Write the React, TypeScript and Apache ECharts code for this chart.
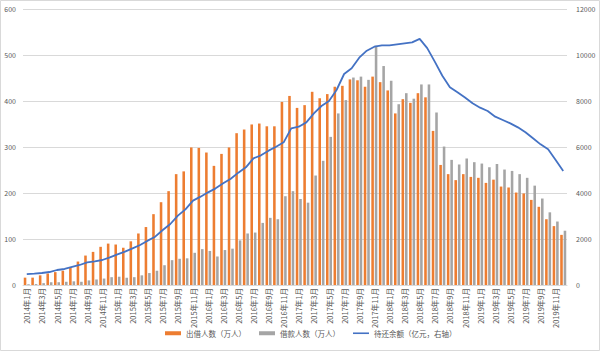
import React, { useEffect, useRef } from "react";
import * as echarts from "echarts";

const years = [2014, 2015, 2016, 2017, 2018, 2019];
const months = [1, 2, 3, 4, 5, 6, 7, 8, 9, 10, 11, 12];
const categories: string[] = [];
years.forEach((y) => months.forEach((m) => categories.push(`${y}年${m}月`)));

const lenders = [
  16, 16, 21, 25, 28, 31, 39, 51, 64, 72, 83, 90,
  88, 81, 95, 112, 126, 154, 180, 204, 241, 247, 299, 298,
  288, 259, 285, 299, 330, 338, 349, 351, 345, 345, 398, 411,
  385, 391, 420, 406, 415, 431, 433, 447, 445, 431, 453, 441,
  423, 373, 404, 396, 417, 408, 335, 261, 241, 228, 241, 235,
  233, 222, 229, 214, 212, 201, 199, 185, 170, 143, 128, 109,
];

const borrowers = [
  1.5, 2, 4, 6, 6, 7, 8, 7, 10, 12, 14, 17,
  18, 16, 17, 21, 26, 31, 43, 54, 57, 58, 70, 78,
  74, 62, 76, 79, 97, 112, 114, 135, 146, 143, 193, 204,
  187, 179, 238, 270, 322, 373, 402, 451, 453, 446, 520, 476,
  444, 393, 417, 405, 436, 436, 375, 301, 272, 262, 275, 267,
  264, 256, 263, 251, 248, 241, 233, 216, 188, 158, 138, 118,
];

const balance = [
  470, 491, 522, 565, 652, 696, 783, 870, 986, 1029, 1087, 1203,
  1333, 1449, 1594, 1739, 1928, 2101, 2391, 2652, 3014, 3290, 3667, 3841,
  4029, 4203, 4420, 4623, 4884, 5116, 5507, 5638, 5841, 6014, 6203, 6812,
  6884, 7072, 7464, 7783, 8000, 8478, 9174, 9420, 9884, 10188, 10362, 10420,
  10420, 10464, 10507, 10550, 10700, 10300, 9710, 9100, 8600, 8380, 8150, 7900,
  7710, 7565, 7319, 7174, 7029, 6855, 6638, 6377, 6116, 5899, 5435, 4957,
];

const leftTicks = { min: 0, max: 600, interval: 100 };
const rightTicks = { min: 0, max: 12000, interval: 2000 };

const FONT = "'Noto Sans CJK SC', 'Noto Sans', sans-serif";
const TEXT = "#595959";

export default function App() {
  const ref = useRef<HTMLDivElement>(null);
  useEffect(() => {
    if (!ref.current) return;
    const chart = echarts.init(ref.current, undefined, { renderer: "svg" });
    chart.setOption({
      animation: false,
      backgroundColor: "#ffffff",
      textStyle: { fontFamily: FONT },
      graphic: [
        {
          type: "rect",
          shape: { x: 0.5, y: 0.5, width: 599, height: 350 },
          style: { fill: "none", stroke: "#d9d9d9", lineWidth: 1 },
          silent: true,
        },
      ],
      grid: { left: 23, right: 33, top: 9, bottom: 66 },
      legend: {
        bottom: 9,
        left: 160,
        itemWidth: 16,
        itemHeight: 4,
        itemGap: 13,
        textStyle: { fontSize: 7.5, color: TEXT, fontFamily: FONT },
        data: [
          { name: "出借人数（万人）", icon: "rect" },
          { name: "借款人数（万人）", icon: "rect" },
          {
            name: "待还余额（亿元，右轴）",
            icon: "path://M0,0 L20,0 L20,2 L0,2 Z",
          },
        ],
      },
      xAxis: {
        type: "category",
        data: categories,
        axisLine: { show: true, lineStyle: { color: "#d9d9d9" } },
        axisTick: { show: false },
        axisLabel: {
          interval: 1,
          rotate: 90,
          fontSize: 7.5,
          color: TEXT,
          margin: 3,
          fontFamily: FONT,
        },
      },
      yAxis: [
        {
          type: "value",
          ...leftTicks,
          axisLine: { show: false },
          axisTick: { show: false },
          axisLabel: {
            fontSize: 7,
            color: TEXT,
            margin: 7,
            fontFamily: FONT,
            formatter: (v: number) => String(v),
          },
          splitLine: { lineStyle: { color: "#d9d9d9", width: 1 } },
        },
        {
          type: "value",
          ...rightTicks,
          position: "right",
          alignTicks: false,
          axisLine: { show: false },
          axisTick: { show: false },
          axisLabel: {
            fontSize: 7,
            color: TEXT,
            margin: 9,
            fontFamily: FONT,
            formatter: (v: number) => String(v),
          },
          splitLine: { show: false },
        },
      ],
      series: [
        {
          name: "出借人数（万人）",
          type: "bar",
          data: lenders,
          barWidth: "34%",
          barGap: "35%",
          itemStyle: { color: "#ED7D31" },
        },
        {
          name: "借款人数（万人）",
          type: "bar",
          data: borrowers,
          barWidth: "34%",
          barGap: "35%",
          itemStyle: { color: "#A5A5A5" },
        },
        {
          name: "待还余额（亿元，右轴）",
          type: "line",
          yAxisIndex: 1,
          data: balance,
          symbol: "none",
          showSymbol: false,
          lineStyle: { color: "#4472C4", width: 1.8 },
          itemStyle: { color: "#4472C4" },
        },
      ],
    });
    return () => chart.dispose();
  }, []);
  return (
    <div
      ref={ref}
      style={{ position: "fixed", left: 0, top: 0, width: 600, height: 351 }}
    />
  );
}
